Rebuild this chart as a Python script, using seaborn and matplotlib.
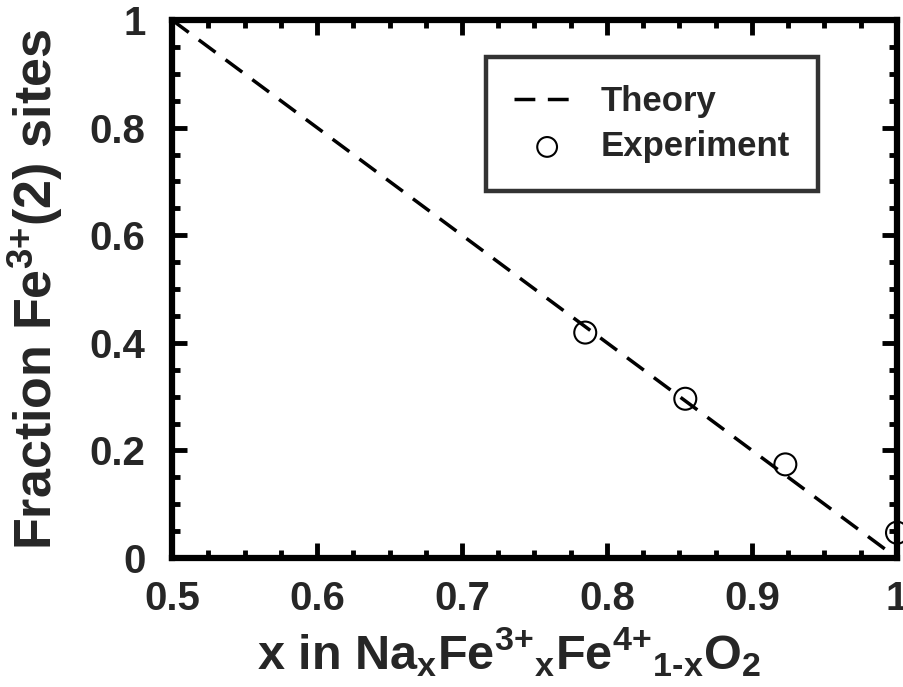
import matplotlib
matplotlib.use("Agg")
import matplotlib.pyplot as plt
from matplotlib.ticker import MultipleLocator, FuncFormatter
import seaborn as sns
import pandas as pd

# Theory: linear fraction of Fe3+(2) sites vs sodium content
theory_x = [0.5, 1.0]
theory_y = [1.0, 0.0]

# Measured fractions
exp_x = [0.785, 0.854, 0.923, 1.0]
exp_y = [0.419, 0.296, 0.174, 0.047]

sns.set_theme(style="white")
plt.rcParams['font.family'] = ['Liberation Sans', 'DejaVu Sans']
plt.rcParams['font.weight'] = 'bold'
plt.rcParams['mathtext.fontset'] = 'custom'
plt.rcParams['mathtext.rm'] = 'Liberation Sans:bold'
plt.rcParams['mathtext.bf'] = 'Liberation Sans:bold'
plt.rcParams['mathtext.it'] = 'Liberation Sans:bold'
plt.rcParams['mathtext.default'] = 'bf'

fig = plt.figure(figsize=(9.04, 6.87), dpi=100)
ax = fig.add_axes([172/904, 1 - 558/687, (897-172)/904, (558-20)/687])

theory = pd.DataFrame({"x": theory_x, "y": theory_y})
exp = pd.DataFrame({"x": exp_x, "y": exp_y})

sns.lineplot(data=theory, x="x", y="y", ax=ax, color="black", lw=2.5,
             label="Theory", dashes=False)
ax.lines[0].set_dashes([6, 3.6])
sns.scatterplot(data=exp, x="x", y="y", ax=ax, marker="o", s=250,
                facecolor="none", edgecolor="black", linewidth=1.5,
                label="Experiment", clip_on=False, zorder=5)

ax.set_xlim(0.5, 1.0)
ax.set_ylim(0, 1.0)
ax.xaxis.set_major_locator(MultipleLocator(0.1))
ax.xaxis.set_minor_locator(MultipleLocator(0.025))
ax.yaxis.set_major_locator(MultipleLocator(0.2))
ax.yaxis.set_minor_locator(MultipleLocator(0.05))

def fmt(v, pos):
    s = f"{v:.1f}"
    if s == "1.0":
        return "1"
    if s == "0.0":
        return "0"
    return s

ax.xaxis.set_major_formatter(FuncFormatter(fmt))
ax.yaxis.set_major_formatter(FuncFormatter(fmt))

ax.tick_params(which="both", direction="in", top=True, right=True,
               bottom=True, left=True, color="black")
ax.tick_params(which="major", length=11, width=3.5, labelsize=29)
ax.tick_params(axis="x", which="major", pad=16)
ax.tick_params(axis="y", which="major", pad=19)
ax.tick_params(which="minor", length=5.5, width=3.5)
for lbl in ax.get_xticklabels() + ax.get_yticklabels():
    lbl.set_fontweight("bold")

for sp in ax.spines.values():
    sp.set_linewidth(4.5)
    sp.set_color("black")

ax.set_xlabel(r"x in Na$_x$Fe$^{\text{3+}}$$_x$Fe$^{\text{4+}}$$_{\text{1-x}}$O$_2$",
              fontsize=35, fontweight="bold")
ax.xaxis.set_label_coords(0.465, -0.125)
ax.set_ylabel(r"Fraction Fe$^{\text{3+}}$(2) sites", fontsize=37.5,
              fontweight="bold", labelpad=18)

leg = ax.legend(loc="upper right", bbox_to_anchor=(0.891, 0.931),
                borderaxespad=0, frameon=True, fancybox=False,
                edgecolor="black", prop={"weight": "bold", "size": 25},
                handlelength=1.9, borderpad=0.8, labelspacing=0.35,
                handletextpad=0.6, markerscale=0.9)
leg.get_frame().set_linewidth(3.2)

fig.savefig("out.png", dpi=100)
